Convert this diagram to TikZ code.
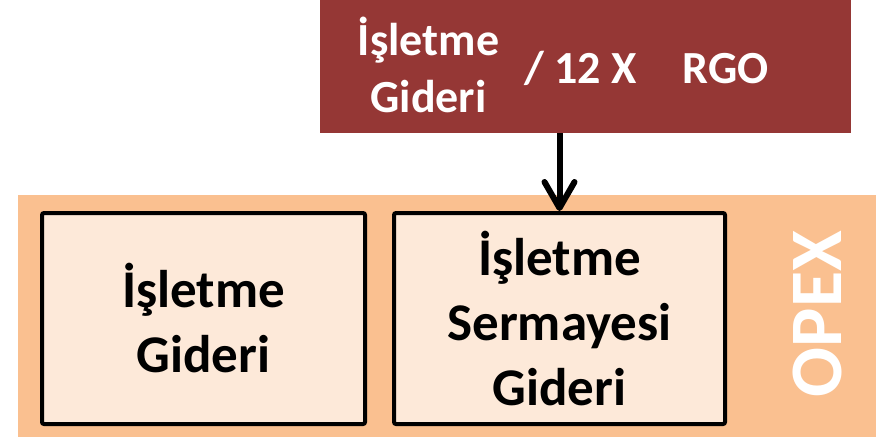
\documentclass[tikz,border=0pt]{standalone}
\usepackage{fontspec}
\setmainfont{Carlito}
\usetikzlibrary{arrows.meta}
\definecolor{topred}{HTML}{953735}
\definecolor{bandorange}{HTML}{FAC090}
\definecolor{boxfill}{HTML}{FDE9D9}
\begin{document}
\begin{tikzpicture}[x=1pt,y=-1pt,
  lightbox/.style={draw=black, line width=4pt, fill=boxfill, rounded corners=2pt,
    inner sep=0pt, align=center, font=\fontsize{53}{65}\selectfont\bfseries},
  toptext/.style={text=white, inner sep=0pt, font=\fontsize{46}{57}\selectfont\bfseries},
  arrowline/.style={line width=6pt, -{Straight Barb[length=26pt,width=30pt,round]}}]
\useasboundingbox (0,0) rectangle (876,437);
\node[fill=bandorange, minimum width=858pt, minimum height=242pt, inner sep=0pt,
  outer sep=0pt, anchor=north west] (band) at (18,195) {};
\node[fill=topred, minimum width=531pt, minimum height=133pt, inner sep=0pt,
  outer sep=0pt, anchor=north west] (top) at (320,0) {};
\node[toptext, align=center] (t1) at (428.5,65) {İşletme\\Gideri};
\node[toptext, anchor=base] (t2) at (580.5,83) {/ 12 X};
\node[toptext, anchor=base] (t3) at (725.5,83) {RGO};
\node[lightbox, minimum width=323pt, minimum height=211pt] (left) at (203.5,318.5)
  {İşletme\\Gideri};
\node[lightbox, minimum width=331pt, minimum height=211pt] (mid) at (559.5,318.5)
  {İşletme\\Sermayesi\\Gideri};
\node[rotate=90, text=white, inner sep=0pt, font=\fontsize{74}{80}\selectfont\bfseries]
  (opex) at (817.5,314) {OPEX};
\draw[arrowline] (mid.north |- top.south) -- (mid.north);
\end{tikzpicture}
\end{document}
